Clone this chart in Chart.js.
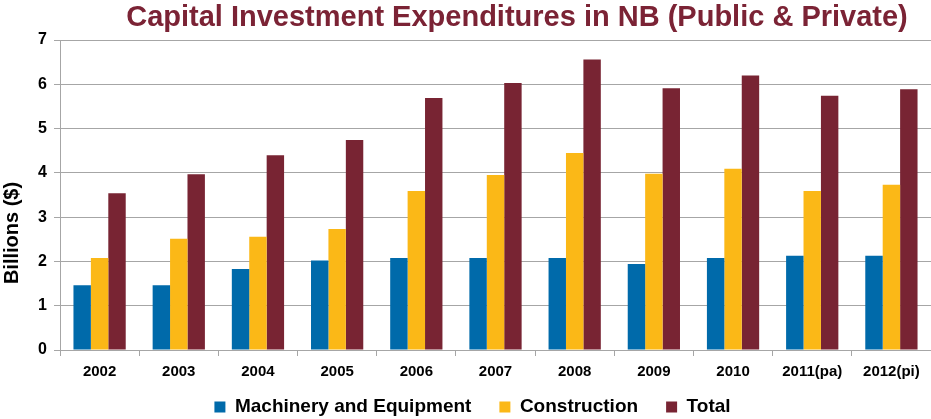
<!DOCTYPE html>
<html>
<head>
<meta charset="utf-8">
<script src="https://cdn.jsdelivr.net/npm/chart.js@4"></script>
<style>
  html, body { margin: 0; padding: 0; background: #ffffff; }
  #wrap { width: 931px; height: 419px; position: relative; }
</style>
</head>
<body>
<div id="wrap"><canvas id="c" width="931" height="419"></canvas></div>
<script>
const chartTitle = 'Capital Investment Expenditures in NB (Public & Private)';
const yAxisTitle = 'Billions ($)';
const categories = ['2002', '2003', '2004', '2005', '2006', '2007', '2008', '2009', '2010', '2011(pa)', '2012(pi)'];
const machinery = [1.46, 1.46, 1.83, 2.02, 2.08, 2.08, 2.08, 1.94, 2.08, 2.13, 2.13];
const construction = [2.08, 2.51, 2.56, 2.73, 3.59, 3.95, 4.45, 3.98, 4.09, 3.59, 3.73];
const total = [3.54, 3.97, 4.40, 4.74, 5.69, 6.03, 6.56, 5.91, 6.20, 5.74, 5.89];
const seriesNames = ['Machinery and Equipment', 'Construction', 'Total'];
const yTicks = [0, 1, 2, 3, 4, 5, 6, 7];

const FONT = '"Liberation Sans", Arial, sans-serif';

const textPlugin = {
  id: 'textPlugin',
  afterLayout(chart) {
    const lg = chart.legend;
    if (lg) {
      lg.top = 407 - 28 - 9.5;
      lg.bottom = 419;
      lg.height = lg.bottom - lg.top;
      lg.left = 14;
      lg.width = lg.right - lg.left;
    }
  },
  afterDraw(chart) {
    const ctx = chart.ctx;
    ctx.save();
    ctx.fillStyle = '#7B2335';
    ctx.font = 'bold 29px ' + FONT;
    ctx.textAlign = 'center';
    ctx.textBaseline = 'middle';
    ctx.fillText(chartTitle, 517, 18);
    ctx.restore();

    ctx.save();
    ctx.fillStyle = '#000000';
    ctx.font = 'bold 20px ' + FONT;
    ctx.textAlign = 'center';
    ctx.textBaseline = 'middle';
    ctx.translate(12, 233);
    ctx.rotate(-Math.PI / 2);
    ctx.fillText(yAxisTitle, 0, 0);
    ctx.restore();
  }
};

new Chart(document.getElementById('c'), {
  type: 'bar',
  data: {
    labels: categories,
    datasets: [
      { label: seriesNames[0], data: machinery, backgroundColor: '#006AAA', borderWidth: 0 },
      { label: seriesNames[1], data: construction, backgroundColor: '#FBB817', borderWidth: 0 },
      { label: seriesNames[2], data: total, backgroundColor: '#782433', borderWidth: 0 }
    ]
  },
  options: {
    responsive: false,
    animation: false,
    devicePixelRatio: 1,
    layout: { padding: { top: 40, left: 0, right: 0, bottom: 0 } },
    datasets: { bar: { categoryPercentage: 0.66, barPercentage: 1.0 } },
    scales: {
      x: {
        afterFit(scale) { scale.height = 31; },
        grid: { display: true, drawOnChartArea: false, drawTicks: true, tickLength: 6, color: '#A6A6A6', offset: true },
        border: { display: true, color: '#A6A6A6', width: 1 },
        ticks: { color: '#000000', padding: 7, font: { family: FONT, size: 15, weight: 'bold' }, maxRotation: 0, autoSkip: false }
      },
      y: {
        min: 0, max: 7,
        afterFit(scale) { scale.width = 60; },
        afterBuildTicks(scale) { scale.ticks = yTicks.map(v => ({ value: v })); },
        grid: { color: '#A6A6A6', lineWidth: 1, tickLength: 6, drawTicks: true },
        border: { display: true, color: '#A6A6A6', width: 1 },
        ticks: { color: '#000000', padding: 7, font: { family: FONT, size: 16, weight: 'bold' } }
      }
    },
    plugins: {
      title: { display: false },
      tooltip: { enabled: false },
      legend: {
        display: true,
        position: 'bottom',
        maxHeight: 38,
        labels: {
          boxWidth: 11, boxHeight: 11, padding: 28, color: '#000000',
          font: { family: FONT, size: 19, weight: 'bold' }
        }
      }
    }
  },
  plugins: [textPlugin]
});
</script>
</body>
</html>
